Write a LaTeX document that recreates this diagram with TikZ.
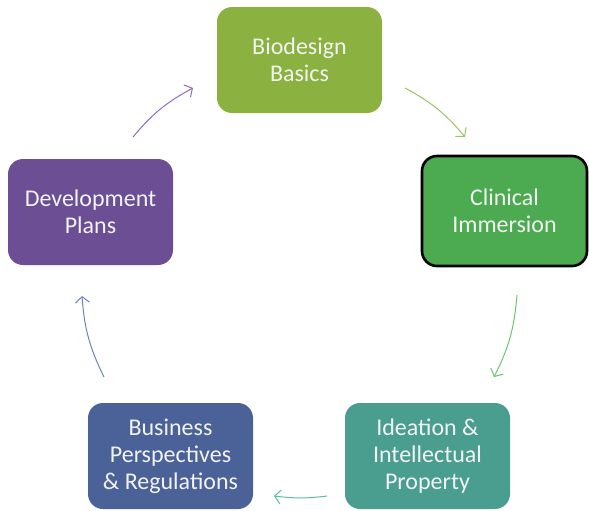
\documentclass[tikz,border=0pt]{standalone}
\usepackage{fontspec}
\setmainfont{Carlito}
\usetikzlibrary{arrows.meta}
\definecolor{basicsGreen}{RGB}{139,178,64}
\definecolor{clinicGreen}{RGB}{76,170,80}
\definecolor{ideaTeal}{RGB}{74,158,143}
\definecolor{businessBlue}{RGB}{74,98,152}
\definecolor{planPurple}{RGB}{108,78,148}

\begin{document}
\begin{tikzpicture}[
    x=0.5pt, y=-0.5pt,
    stage/.style={
        rounded corners=7.5pt,
        minimum width=82.5pt,
        minimum height=53pt,
        align=center,
        text=white!95!black,
        font=\fontsize{12}{13.5}\selectfont
    },
    cycle arrow/.style={
        line width=0.5pt,
        bend left=11,
        -{Straight Barb[length=3pt,width=7pt]}
    }
]
\useasboundingbox (0,0) rectangle (589,510);

%------------------------------------------------
% Stages
%------------------------------------------------
\node[stage,fill=basicsGreen] (basics) at (299.5,60) {Biodesign\\Basics};
\node[stage,fill=clinicGreen,draw=black,line width=1.3pt,
      minimum height=55pt] (clinical) at (504.5,211) {Clinical\\Immersion};
\node[stage,fill=ideaTeal] (ideation) at (427.5,456) {Ideation \&\\Intellectual\\Property};
\node[stage,fill=businessBlue] (business) at (170.5,456) {Business\\Perspectives\\\& Regulations};
\node[stage,fill=planPurple] (plans) at (90.5,212) {Development\\Plans};

%------------------------------------------------
% Arrow ends on a circle round (297,280)
%------------------------------------------------
\coordinate (a1) at (405,88);  \coordinate (b1) at (465,137);
\coordinate (a2) at (517,295); \coordinate (b2) at (494,377);
\coordinate (a3) at (327,496); \coordinate (b3) at (274,496);
\coordinate (a4) at (104,377); \coordinate (b4) at (82,296);
\coordinate (a5) at (133,137); \coordinate (b5) at (193,88);

\draw[cycle arrow,draw={rgb,255:red,155;green,196;blue,98}] (a1) to (b1);
\draw[cycle arrow,draw={rgb,255:red,108;green,196;blue,108}] (a2) to (b2);
\draw[cycle arrow,bend left=7,draw={rgb,255:red,92;green,190;blue,160}] (a3) to (b3);
\draw[cycle arrow,draw={rgb,255:red,106;green,132;blue,192}] (a4) to (b4);
\draw[cycle arrow,draw={rgb,255:red,140;green,108;blue,192}] (a5) to (b5);

\end{tikzpicture}
\end{document}
